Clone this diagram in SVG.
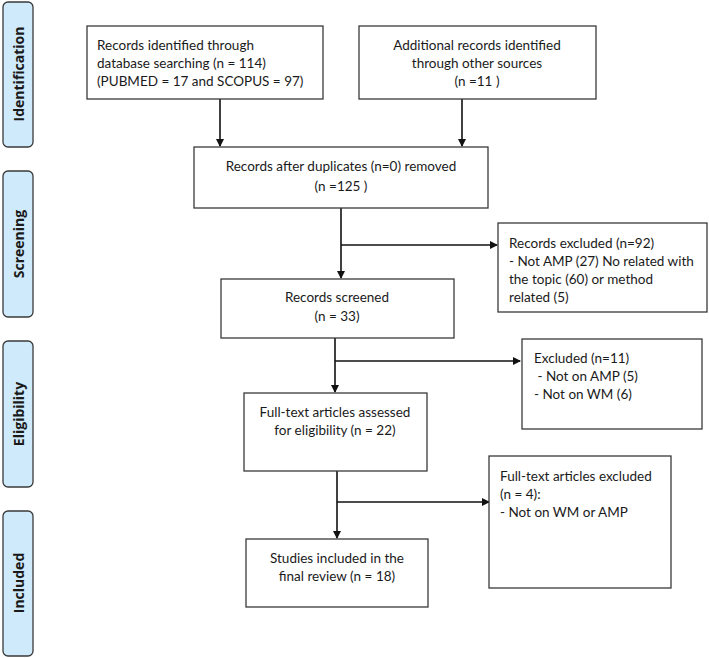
<svg xmlns="http://www.w3.org/2000/svg" width="709" height="658" viewBox="0 0 709 658">
<style>
.box{fill:#fff;stroke:#3a3a3a;stroke-width:1.3}
.phase{fill:#cfeafb;stroke:#3a3a3a;stroke-width:1.3}
.t{font-family:Lato,"Open Sans",sans-serif;font-size:13.5px;fill:#1a1a1a}
.c{text-anchor:middle}
.pl{font-family:"Open Sans","DejaVu Sans",sans-serif;font-size:14px;font-weight:bold;fill:#1a1a1a;text-anchor:middle}
.ln{stroke:#111;stroke-width:1.6;fill:none}
</style>
<defs>
<marker id="ah" markerWidth="8" markerHeight="8" refX="7" refY="4" orient="auto" markerUnits="userSpaceOnUse">
<path d="M0,0 L8,4 L0,8 z" fill="#111"/>
</marker>
</defs>
<g id="phase-identification"><rect class="phase" x="3" y="2" width="30" height="145" rx="5"/><text class="pl" transform="translate(24,74) rotate(-90)">Identification</text></g>
<g id="phase-screening"><rect class="phase" x="3" y="171" width="30" height="146" rx="5"/><text class="pl" transform="translate(24,244) rotate(-90)">Screening</text></g>
<g id="phase-eligibility"><rect class="phase" x="3" y="341" width="30" height="146" rx="5"/><text class="pl" transform="translate(24,414) rotate(-90)">Eligibility</text></g>
<g id="phase-included"><rect class="phase" x="3" y="511" width="30" height="145" rx="5"/><text class="pl" transform="translate(24,583) rotate(-90)">Included</text></g>

<g id="connectors">
<line class="ln" x1="220" y1="99" x2="220" y2="146" marker-end="url(#ah)"/>
<line class="ln" x1="462" y1="99" x2="462" y2="146" marker-end="url(#ah)"/>
<line class="ln" x1="341" y1="208" x2="341" y2="278" marker-end="url(#ah)"/>
<line class="ln" x1="341" y1="245" x2="497" y2="245" marker-end="url(#ah)"/>
<line class="ln" x1="335" y1="338" x2="335" y2="392" marker-end="url(#ah)"/>
<line class="ln" x1="335" y1="361" x2="520" y2="361" marker-end="url(#ah)"/>
<line class="ln" x1="337" y1="471" x2="337" y2="538" marker-end="url(#ah)"/>
<line class="ln" x1="337" y1="502" x2="489" y2="502" marker-end="url(#ah)"/>
</g>

<g id="n1"><rect class="box" x="87" y="26" width="236" height="73"/>
<text class="t" x="97" y="50">Records identified through</text>
<text class="t" x="97" y="68">database searching (n = 114)</text>
<text class="t" x="97" y="86">(PUBMED = 17 and SCOPUS = 97)</text></g>

<g id="n2"><rect class="box" x="359" y="26" width="237" height="73"/>
<text class="t c" x="477" y="50">Additional records identified</text>
<text class="t c" x="477" y="68">through other sources</text>
<text class="t c" x="477" y="86">(n =11 )</text></g>

<g id="n3"><rect class="box" x="194" y="147" width="294" height="61"/>
<text class="t c" x="341" y="171">Records after duplicates (n=0) removed</text>
<text class="t c" x="341" y="191">(n =125 )</text></g>

<g id="n4"><rect class="box" x="498" y="223" width="209" height="89"/>
<text class="t" x="509" y="248">Records excluded (n=92)</text>
<text class="t" x="509" y="266">- Not AMP (27) No related with</text>
<text class="t" x="509" y="284">the topic (60) or method</text>
<text class="t" x="509" y="302">related (5)</text></g>

<g id="n5"><rect class="box" x="221" y="279" width="233" height="59"/>
<text class="t c" x="337" y="302">Records screened</text>
<text class="t c" x="337" y="321">(n = 33)</text></g>

<g id="n6"><rect class="box" x="522" y="339" width="180" height="90"/>
<text class="t" x="534" y="363">Excluded (n=11)</text>
<text class="t" x="534" y="381" xml:space="preserve"> - Not on AMP (5)</text>
<text class="t" x="534" y="399">- Not on WM (6)</text></g>

<g id="n7"><rect class="box" x="244" y="393" width="183" height="78"/>
<text class="t c" x="335" y="417">Full-text articles assessed</text>
<text class="t c" x="335" y="435">for eligibility (n = 22)</text></g>

<g id="n8"><rect class="box" x="489" y="456" width="182" height="132"/>
<text class="t" x="500" y="481">Full-text articles excluded</text>
<text class="t" x="500" y="499">(n = 4):</text>
<text class="t" x="500" y="517">- Not on WM or AMP</text></g>

<g id="n9"><rect class="box" x="246" y="539" width="182" height="68"/>
<text class="t c" x="337" y="563">Studies included in the</text>
<text class="t c" x="337" y="581">final review (n = 18)</text></g>
</svg>
